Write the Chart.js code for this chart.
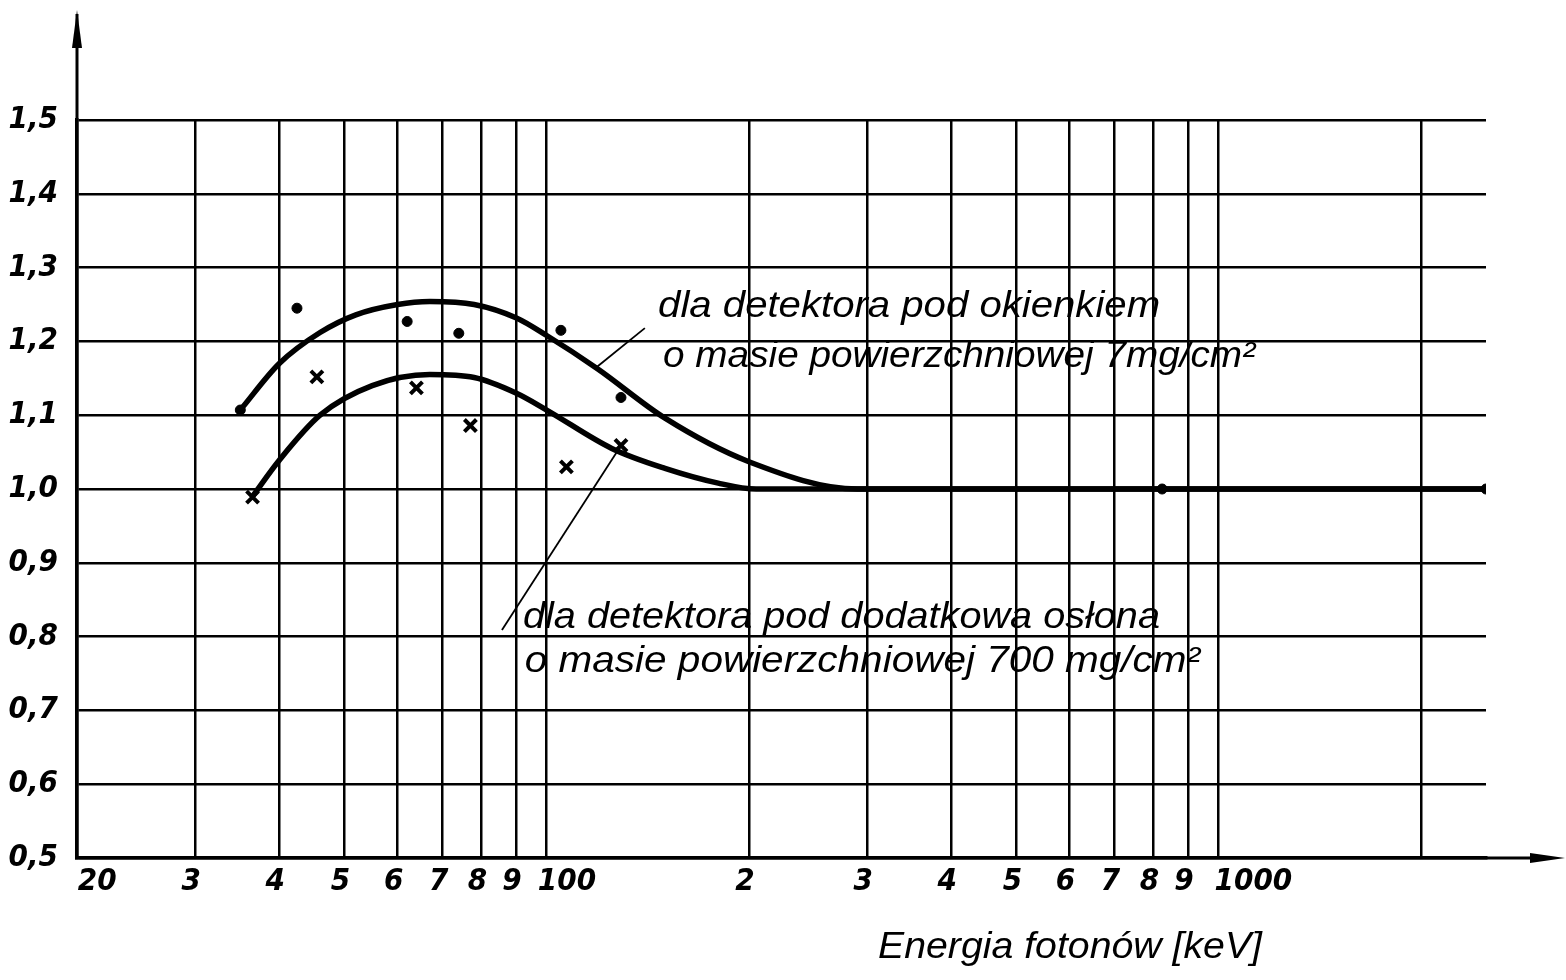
<!DOCTYPE html>
<html>
<head>
<meta charset="utf-8">
<script src="https://cdn.jsdelivr.net/npm/chart.js@4/dist/chart.umd.min.js"></script>
<style>
  html, body { margin: 0; padding: 0; background: #fff; }
  canvas { display: block; }
</style>
</head>
<body>
<canvas id="wykres" width="1566" height="980"></canvas>
<script>
// ---- OSIE ----
const energieTicks = [20, 30, 40, 50, 60, 70, 80, 90, 100, 200, 300, 400, 500, 600, 700, 800, 900, 1000, 2000];
// spacje przesuwaja dluzsze etykiety w prawo, jak na rysunku
const energieLabels = ["     20", "3", "4", "5", "6", "7", "8", "9", "     100", "2", "3", "4", "5", "6", "7", "8", "9", "        1000", ""];
const kTicks = [0.5, 0.6, 0.7, 0.8, 0.9, 1.0, 1.1, 1.2, 1.3, 1.4, 1.5];
const kLabels = ["0,5", "0,6", "0,7", "0,8", "0,9", "1,0", "1,1", "1,2", "1,3", "1,4", "1,5"];

// ---- POMIARY (kropki: okienko 7 mg/cm2, krzyzyki: oslona 700 mg/cm2) ----
const okienkoE = [35, 42.5, 62, 74, 105, 129, 824, 2500];
const okienkoK = [1.107, 1.245, 1.227, 1.211, 1.215, 1.124, 1.0, 1.0];
const oslonaE = [36.5, 45.5, 64, 77, 107, 129];
const oslonaK = [0.989, 1.152, 1.137, 1.086, 1.03, 1.059];

// ---- KRZYWE ----
const krzywaOkienkoE = [35, 40, 46, 52, 60, 67, 78, 90, 100, 119, 150, 200, 290, 2500];
const krzywaOkienkoK = [1.107, 1.17, 1.212, 1.236, 1.25, 1.254, 1.25, 1.232, 1.208, 1.163, 1.096, 1.037, 1.0, 1.0];
const krzywaOslonaE = [36.5, 40, 46, 55, 67, 78, 90, 100, 125, 150, 180, 205, 2500];
const krzywaOslonaK = [0.99, 1.039, 1.1, 1.14, 1.155, 1.151, 1.13, 1.107, 1.055, 1.028, 1.008, 1.0, 1.0];

// ---- ODNOSNIKI ----
const odnosnikOkienkoE = [119, 140];
const odnosnikOkienkoK = [1.166, 1.218];
const odnosnikOslonaE = [128.6, 85.8];
const odnosnikOslonaK = [1.057, 0.809];

// ---- OPISY ----
const opisy = [
  { tekst: "dla detektora pod okienkiem", e: 146.5, k: 1.233, szer: 502 },
  { tekst: "o masie powierzchniowej 7mg/cm²", e: 149, k: 1.165, szer: 592 },
  { tekst: "dla detektora pod dodatkowa osłona", e: 92.2, k: 0.812, szer: 637 },
  { tekst: "o masie powierzchniowej 700 mg/cm²", e: 92.8, k: 0.752, szer: 675 }
];
const tytulOsiX = "Energia fotonów [keV]";

const punkty = (xs, ys) => xs.map((x, i) => ({ x: x, y: ys[i] }));

const RECZNY = "'Liberation Sans', 'DejaVu Sans', sans-serif";
const WASKI = "'Liberation Sans Narrow', 'DejaVu Sans Condensed', 'Liberation Sans', sans-serif";

function tekstSkalowany(ctx, tekst, x, y, szer) {
  const w = ctx.measureText(tekst).width;
  ctx.save();
  ctx.translate(x, y);
  ctx.scale(szer / w, 1);
  ctx.fillText(tekst, 0, 0);
  ctx.restore();
}

const dodatki = {
  id: "dodatki",
  afterDraw(chart) {
    const ctx = chart.ctx;
    const a = chart.chartArea;
    const sx = chart.scales.x, sy = chart.scales.y;
    ctx.save();
    ctx.fillStyle = "#000";
    ctx.strokeStyle = "#000";

    // strzalka osi Y
    ctx.lineWidth = 3;
    ctx.beginPath();
    ctx.moveTo(a.left, a.top);
    ctx.lineTo(a.left, 14);
    ctx.stroke();
    ctx.beginPath();
    ctx.moveTo(a.left, 10);
    ctx.lineTo(a.left - 5, 48);
    ctx.lineTo(a.left + 5, 48);
    ctx.closePath();
    ctx.fill();

    // strzalka osi X
    ctx.beginPath();
    ctx.moveTo(a.right, a.bottom);
    ctx.lineTo(1545, a.bottom);
    ctx.stroke();
    ctx.beginPath();
    ctx.moveTo(1565, a.bottom);
    ctx.lineTo(1530, a.bottom - 5);
    ctx.lineTo(1530, a.bottom + 5);
    ctx.closePath();
    ctx.fill();

    // opisy krzywych
    ctx.font = "italic 36px " + RECZNY;
    ctx.textBaseline = "alphabetic";
    ctx.textAlign = "left";
    opisy.forEach(o => {
      tekstSkalowany(ctx, o.tekst, sx.getPixelForValue(o.e), sy.getPixelForValue(o.k), o.szer);
    });

    // tytul osi X
    ctx.font = "italic 36px " + RECZNY;
    tekstSkalowany(ctx, tytulOsiX, 878, 958, 384);
    ctx.restore();
  }
};

new Chart(document.getElementById("wykres"), {
  type: "line",
  data: {
    datasets: [
      {
        label: "okienko 7 mg/cm2",
        data: punkty(krzywaOkienkoE, krzywaOkienkoK),
        borderColor: "#000",
        borderWidth: 5.5,
        pointRadius: 0,
        cubicInterpolationMode: "monotone",
        fill: false
      },
      {
        label: "oslona 700 mg/cm2",
        data: punkty(krzywaOslonaE, krzywaOslonaK),
        borderColor: "#000",
        borderWidth: 5.5,
        pointRadius: 0,
        cubicInterpolationMode: "monotone",
        fill: false
      },
      {
        label: "pomiary okienko",
        data: punkty(okienkoE, okienkoK),
        showLine: false,
        pointStyle: "circle",
        pointRadius: 5,
        pointBackgroundColor: "#000",
        pointBorderColor: "#000"
      },
      {
        label: "pomiary oslona",
        data: punkty(oslonaE, oslonaK),
        showLine: false,
        pointStyle: "crossRot",
        pointRadius: 8.5,
        pointBorderWidth: 4,
        pointBorderColor: "#000"
      },
      {
        label: "odnosnik okienko",
        data: punkty(odnosnikOkienkoE, odnosnikOkienkoK),
        borderColor: "#000",
        borderWidth: 1.8,
        pointRadius: 0
      },
      {
        label: "odnosnik oslona",
        data: punkty(odnosnikOslonaE, odnosnikOslonaK),
        borderColor: "#000",
        borderWidth: 1.8,
        pointRadius: 0
      }
    ]
  },
  options: {
    responsive: false,
    devicePixelRatio: 1,
    animation: false,
    layout: { padding: { top: 120, right: 80, bottom: 0, left: 0 } },
    plugins: {
      legend: { display: false },
      tooltip: { enabled: false }
    },
    scales: {
      x: {
        type: "logarithmic",
        min: 20,
        max: 2500,
        afterBuildTicks: s => { s.ticks = energieTicks.map(v => ({ value: v })); },
        afterFit: s => { s.height = 122; },
        grid: { color: "#000", lineWidth: 2.5, drawTicks: false },
        border: { color: "#000", width: 3.5 },
        ticks: {
          autoSkip: false,
          maxRotation: 0,
          padding: 5,
          labelOffset: -4,
          color: "#000",
          font: { family: WASKI, size: 31, style: "italic", weight: "bold" },
          callback: (v, i) => energieLabels[i]
        }
      },
      y: {
        type: "linear",
        min: 0.5,
        max: 1.5,
        afterBuildTicks: s => { s.ticks = kTicks.map(v => ({ value: v })); },
        afterFit: s => { s.width = 77; },
        grid: { color: "#000", lineWidth: 2.5, drawTicks: false },
        border: { color: "#000", width: 3.5 },
        ticks: {
          padding: 19,
          color: "#000",
          font: { family: WASKI, size: 31, style: "italic", weight: "bold" },
          callback: (v, i) => kLabels[i]
        }
      }
    }
  },
  plugins: [dodatki]
});
</script>
</body>
</html>
